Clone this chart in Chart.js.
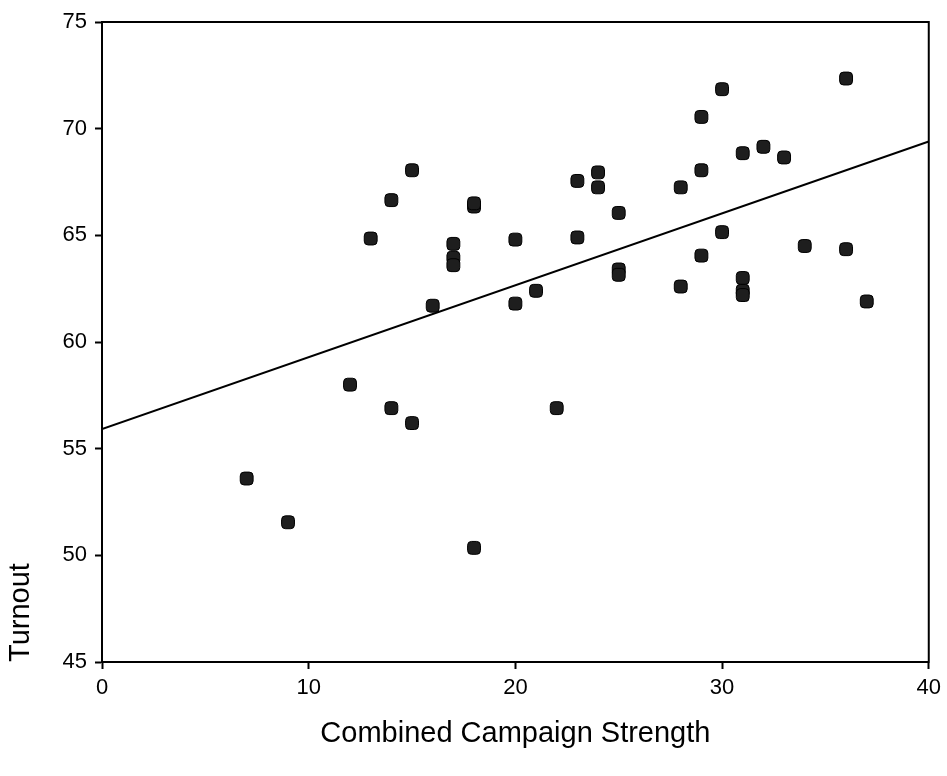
<!DOCTYPE html>
<html>
<head>
<meta charset="utf-8">
<script src="https://cdn.jsdelivr.net/npm/chart.js@4"></script>
<style>
  body { margin: 0; background: #fff; }
  #wrap { width: 947px; height: 776px; }
</style>
</head>
<body>
<div id="wrap"><canvas id="myChart" width="947" height="776"></canvas></div>
<script>
// data
var strength = [7, 9, 12, 13, 14, 14, 15, 15, 16, 17, 17, 17, 18, 18, 18, 20, 20, 21, 22, 23, 23, 24, 24, 25, 25, 25,
                28, 28, 29, 29, 29, 30, 30, 31, 31, 31, 31, 32, 33, 34, 36, 36, 37];
var turnout  = [53.6, 51.55, 58.0, 64.85, 66.65, 56.9, 68.05, 56.2, 61.7, 64.6, 63.95, 63.6, 66.35, 66.5, 50.35, 64.8, 61.8, 62.4, 56.9, 67.55, 64.9, 67.95, 67.25, 66.05, 63.4, 63.15,
                67.25, 62.6, 70.55, 68.05, 64.05, 71.85, 65.15, 68.85, 63.0, 62.4, 62.2, 69.15, 68.65, 64.5, 72.35, 64.35, 61.9];
// fitted line, ends read at x = 0 and x = 40
var fitX = [0, 40];
var fitY = [55.92, 69.4];
var xTicks = [0, 10, 20, 30, 40];
var yTicks = [45, 50, 55, 60, 65, 70, 75];

var font = '"Liberation Sans", Arial, sans-serif';

var frame = {
    id: 'frame',
    afterDatasetsDraw: function(chart) {
        var a = chart.chartArea, c = chart.ctx;
        c.save();
        c.strokeStyle = '#000';
        c.lineWidth = 2;
        c.strokeRect(a.left, a.top, a.right - a.left, a.bottom - a.top);
        c.restore();
    }
};

var ctx = document.getElementById('myChart').getContext('2d');
var myChart = new Chart(ctx, {
    type: 'scatter',
    data: {
        datasets: [{
            label: 'Turnout',
            data: strength.map(function(x, i) { return { x: x, y: turnout[i] }; }),
            pointStyle: 'rectRounded',
            pointRadius: 7.5,
            backgroundColor: '#1e1e1e',
            borderColor: '#000',
            borderWidth: 1
        }, {
            type: 'line',
            label: 'Fit',
            data: fitX.map(function(x, i) { return { x: x, y: fitY[i] }; }),
            borderColor: '#000',
            borderWidth: 2,
            pointRadius: 0,
            fill: false
        }]
    },
    options: {
        responsive: false,
        animation: false,
        layout: { padding: { top: 22, right: 15, left: 4, bottom: 0 } },
        plugins: {
            legend: { display: false },
            tooltip: { enabled: false }
        },
        scales: {
            x: {
                type: 'linear',
                min: 0,
                max: 40,
                afterBuildTicks: function(s) { s.ticks = xTicks.map(function(v) { return { value: v }; }); },
                afterFit: function(s) { s.height = 114; },
                ticks: { color: '#000', font: { family: font, size: 22 }, padding: 6 },
                grid: { drawOnChartArea: false, tickLength: 7, tickWidth: 2, tickColor: '#000' },
                border: { color: '#000', width: 2 },
                title: {
                    display: true,
                    text: 'Combined Campaign Strength',
                    color: '#000',
                    font: { family: font, size: 29 },
                    padding: { top: 10, bottom: 25 }
                }
            },
            y: {
                min: 45,
                max: 75,
                afterBuildTicks: function(s) { s.ticks = yTicks.map(function(v) { return { value: v }; }); },
                afterFit: function(s) { s.width = 98; },
                ticks: { color: '#000', font: { family: font, size: 22 }, padding: 8 },
                grid: { drawOnChartArea: false, tickLength: 7, tickWidth: 2, tickColor: '#000' },
                border: { color: '#000', width: 2 },
                title: {
                    display: true,
                    text: 'Turnout',
                    align: 'start',
                    color: '#000',
                    font: { family: font, size: 29 },
                    padding: 0
                }
            }
        }
    },
    plugins: [frame]
});
</script>
</body>
</html>
